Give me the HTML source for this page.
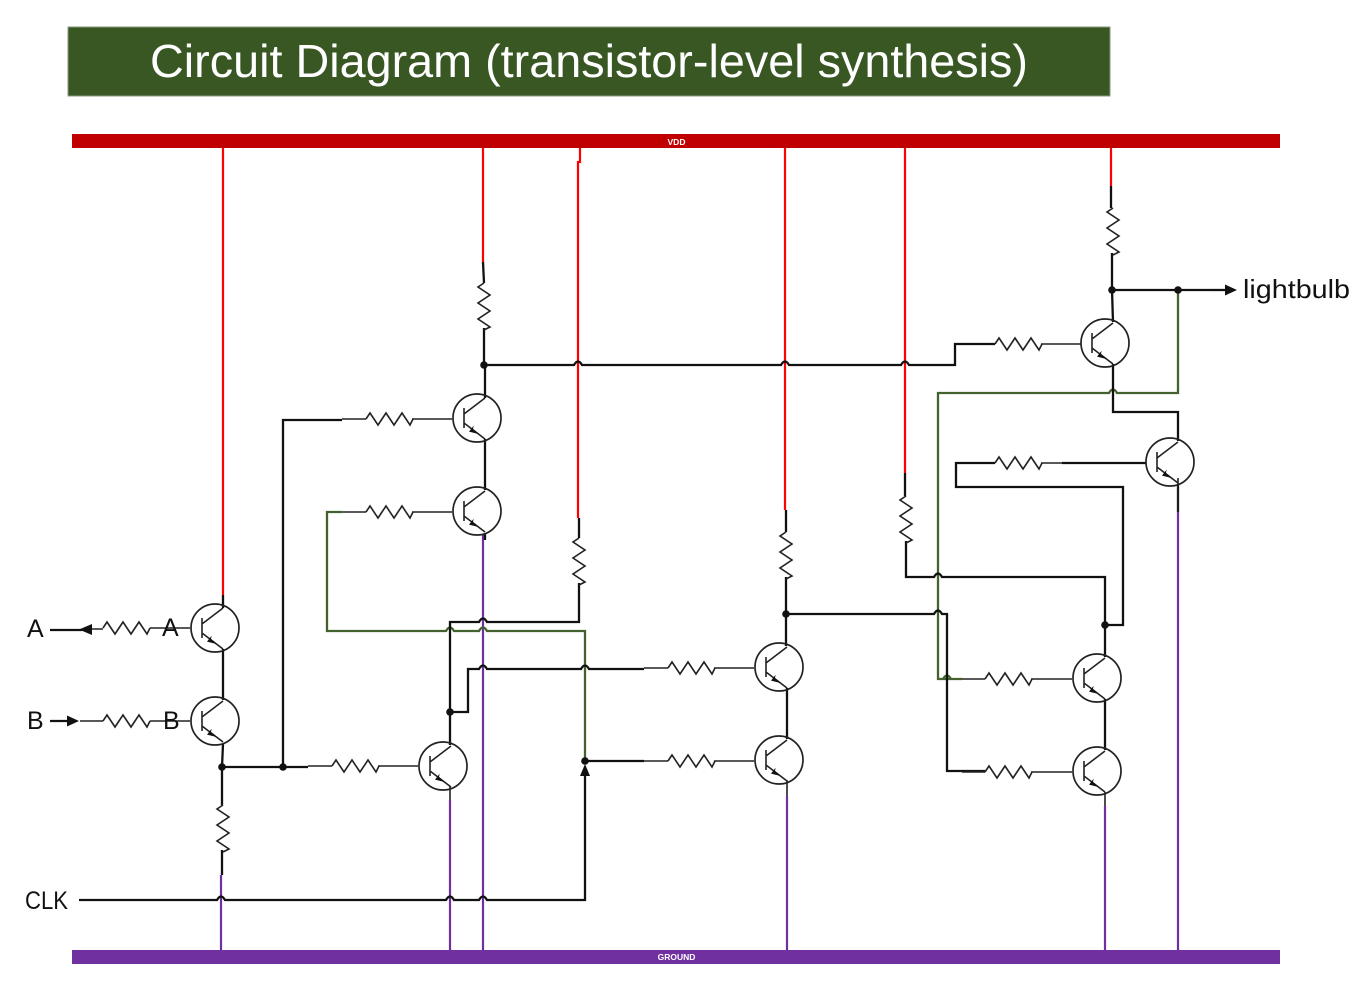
<!DOCTYPE html>
<html><head><meta charset="utf-8"><style>
html,body{margin:0;padding:0;background:#fff;width:1365px;height:986px;overflow:hidden}
svg{display:block}
text{font-family:"Liberation Sans",sans-serif}
.k{fill:none;stroke:#111;stroke-width:2.3}
.t{fill:none;stroke:#222;stroke-width:1.6}
.g{fill:none;stroke:#43622e;stroke-width:2.3}
.r{fill:none;stroke:#f00;stroke-width:2.2}
.p{fill:none;stroke:#7030a0;stroke-width:2.2}
</style></head><body>
<svg width="1365" height="986" viewBox="0 0 1365 986" xmlns="http://www.w3.org/2000/svg">
<defs>
<g id="q">
<circle r="24" fill="none" stroke="#222" stroke-width="1.7"/>
<path d="M-13,-10V10M-13,-4L8,-20M-13,5L8,21" fill="none" stroke="#222" stroke-width="1.6"/>
<path d="M1.500,16L-8,13.600 -3.400,7.800 -4,11z" fill="#111"/>
</g>
<path id="rh" d="M0,0L4,-6 12,6 20,-6 28,6 36,-6 44,6 47,0" fill="none" stroke="#222" stroke-width="1.6"/>
<path id="rv" d="M0,0L-6,4 6,12 -6,20 6,28 -6,36 6,44 0,47" fill="none" stroke="#222" stroke-width="1.6"/>
</defs>

<rect x="68" y="27" width="1042" height="69" fill="#385723" stroke="#8a9a80" stroke-width="1"/>
<text x="150" y="77" font-size="46" fill="#fff" textLength="878" lengthAdjust="spacingAndGlyphs">Circuit Diagram (transistor-level synthesis)</text>

<!-- red -->
<path class="r" d="M223,148V595M483,148V262M580,148V162H578V518M785,148V510M905,148V473M1111,148V186"/>
<!-- purple -->
<path class="p" d="M221,875V950M450,800V950M483,535V950M787,796V950M1105,806V950M1178,512V950"/>

<!-- rails -->
<rect x="72" y="134" width="1208" height="14" fill="#c00000"/>
<rect x="72" y="950" width="1208" height="14" fill="#7030a0"/>
<text x="676.500" y="145" font-size="8.500" font-weight="bold" fill="#fff" text-anchor="middle">VDD</text>
<text x="676.500" y="960" font-size="8.500" font-weight="bold" fill="#fff" text-anchor="middle">GROUND</text>

<!-- green -->
<path class="g" d="M342,512H327V631H446q4,-7 8,0H479q4,-7 8,0H585V761"/>
<path class="g" d="M962,679H943q4,-7 8,0M943,679H938V393H1109q4,-7 8,0H1178V290"/>

<!-- black thick -->
<path class="k" d="M223,595V608M223,649V700M223,744L222,767V805M222,850V875"/>
<path class="k" d="M222,767H308"/>
<path class="k" d="M283,767V420H342"/>
<path class="k" d="M79,900H217q4,-7 8,0H446q4,-7 8,0H479q4,-7 8,0H585V772"/>
<path class="k" d="M450,745V622H479q4,-7 8,0H579V583"/>
<path class="k" d="M450,712H468V669H479q4,-7 8,0H581q4,-7 8,0H644"/>
<path class="k" d="M585,761H644"/>
<path class="k" d="M484,328V365H574q4,-7 8,0H781q4,-7 8,0H901q4,-7 8,0H955V344H995"/>
<path class="k" d="M485,365V398M485,439V490M485,533V540"/>
<path class="k" d="M579,518V538M483,262L484,283"/>
<path class="k" d="M786,510V532M786,577V646M786,614H934q4,-7 8,0H947V771H985"/>
<path class="k" d="M787,688V739"/>
<path class="k" d="M905,473V496M906,541V577H934q4,-7 8,0H1105V657M1105,625H1123V487H956V463H995M1062,463H1146"/>
<path class="k" d="M1105,699V750"/>
<path class="k" d="M1111,186V208M1112,253V290L1113,322M1112,290H1210M1113,364V412H1178V441M1178,484V512"/>
<path class="k" d="M1210,290H1225"/>
<path class="k" d="M50,630H82M50,721H70"/>

<!-- thin leads -->
<path class="t" d="M92,629H103M150,628H190M80,721H103M150,721H190"/>
<path class="t" d="M308,766H332M378,766H418"/>
<path class="t" d="M342,419H366M412,419H452M342,512H366M412,512H452"/>
<path class="t" d="M644,668H668M714,668H754M644,761H668M714,761H754"/>
<path class="t" d="M962,679H985M1031,679H1072M962,772H985M1031,772H1072"/>
<path class="t" d="M1041,344H1081M1041,463H1062"/>
<path class="t" d="M450,786V800M787,780V796M1105,792V806M1178,478V512"/>

<!-- arrows -->
<path d="M79,629.500L92,624V635z" fill="#111"/>
<path d="M79,721L67,715.500V726.500z" fill="#111"/>
<path d="M1237,290L1225,284.500V295.500z" fill="#111"/>
<path d="M585,764L580,776H590z" fill="#111"/>

<!-- resistors -->
<use href="#rh" x="103" y="628"/>
<use href="#rh" x="103" y="721"/>
<use href="#rh" x="332" y="766"/>
<use href="#rh" x="366" y="419"/>
<use href="#rh" x="366" y="512"/>
<use href="#rh" x="668" y="668"/>
<use href="#rh" x="668" y="761"/>
<use href="#rh" x="985" y="679"/>
<use href="#rh" x="985" y="772"/>
<use href="#rh" x="995" y="344"/>
<use href="#rh" x="995" y="463"/>
<use href="#rv" x="484" y="283"/>
<use href="#rv" x="579" y="538"/>
<use href="#rv" x="786" y="532"/>
<use href="#rv" x="906" y="496"/>
<use href="#rv" x="1113" y="208"/>
<use href="#rv" x="223" y="805"/>

<!-- transistors -->
<use href="#q" x="215" y="628"/>
<use href="#q" x="215" y="721"/>
<use href="#q" x="443" y="766"/>
<use href="#q" x="477" y="418"/>
<use href="#q" x="477" y="511"/>
<use href="#q" x="779" y="667"/>
<use href="#q" x="779" y="760"/>
<use href="#q" x="1097" y="678"/>
<use href="#q" x="1097" y="771"/>
<use href="#q" x="1105" y="343"/>
<use href="#q" x="1170" y="462"/>

<!-- dots -->
<g fill="#111">
<circle cx="222" cy="767" r="3.800"/><circle cx="283" cy="767" r="3.800"/>
<circle cx="450" cy="712" r="3.800"/><circle cx="585" cy="761" r="3.800"/>
<circle cx="484" cy="365" r="3.800"/><circle cx="786" cy="614" r="3.800"/>
<circle cx="1105" cy="625" r="3.800"/><circle cx="1112" cy="290" r="3.800"/>
<circle cx="1178" cy="290" r="3.800"/>
</g>

<!-- labels -->
<g fill="#111" font-size="25">
<text x="27" y="637">A</text>
<text x="162" y="636">A</text>
<text x="27" y="729">B</text>
<text x="163" y="729">B</text>
<text x="25" y="909" textLength="43" lengthAdjust="spacingAndGlyphs">CLK</text>
<text x="1243" y="298" font-size="26" textLength="107" lengthAdjust="spacingAndGlyphs">lightbulb</text>
</g>
</svg>
</body></html>
